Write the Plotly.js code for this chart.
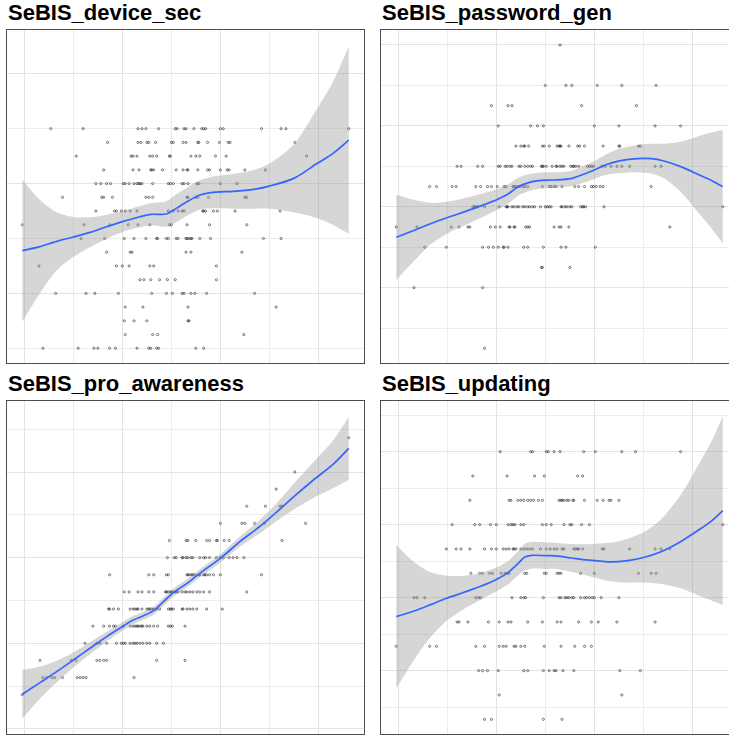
<!DOCTYPE html>
<html><head><meta charset="utf-8">
<script src="https://cdn.plot.ly/plotly-3.0.1.min.js"></script>
<style>html,body{margin:0;padding:0;background:#fff;overflow:hidden}</style>
</head><body><div id="chart" style="width:729px;height:736px"></div>
<script>
// ---------- DATA ----------
const panelTitles = ["SeBIS_device_sec", "SeBIS_password_gen", "SeBIS_pro_awareness", "SeBIS_updating"];

// device_sec: y levels and x values of points at each level
const deviceY = [5, 4.75, 4.5, 4.25, 4, 3.75, 3.5, 3.25, 3, 2.75, 2.5, 2.25, 2, 1.75, 1.5, 1.25, 1];
const deviceX = [
  [1.27,1.60,2.16,2.20,2.24,2.37,2.54,2.56,2.63,2.65,2.73,2.81,2.83,2.85,3.00,3.03,3.42,3.62,3.67,4.31],
  [1.85,2.16,2.19,2.25,2.27,2.34,2.50,2.52,2.62,2.65,2.77,2.78,2.87,2.99,3.08,3.10,3.76],
  [1.53,2.09,2.11,2.15,2.28,2.31,2.35,2.48,2.49,2.70,2.75,2.79,2.95,3.06,3.88],
  [1.81,2.11,2.17,2.29,2.30,2.32,2.41,2.55,2.62,2.66,2.67,2.77,2.87,2.89,3.00,3.07,3.09,3.25,3.46],
  [1.73,1.78,1.84,1.88,2.01,2.03,2.07,2.12,2.15,2.17,2.18,2.20,2.31,2.47,2.49,2.52,2.61,2.63,2.67,2.76,2.78,3.00,3.17],
  [1.39,1.79,1.81,1.90,2.24,2.27,2.31,2.66,2.67,2.75,2.77,2.88,3.25,3.27],
  [1.73,1.92,1.94,1.99,2.03,2.08,2.15,2.47,2.52,2.57,2.61,2.63,2.82,2.83,2.85,2.93,2.97,3.15,3.61],
  [0.98,1.61,1.87,2.06,2.16,2.28,2.48,2.50,2.66,2.89,3.27],
  [1.58,1.82,2.02,2.12,2.24,2.35,2.36,2.45,2.47,2.55,2.57,2.65,2.66,2.68,2.70,2.71,2.79,2.90,3.44,3.62],
  [1.84,2.08,2.10,2.65,2.70,3.22],
  [1.15,1.94,2.00,2.07,2.28,2.32,2.96],
  [2.18,2.22,2.29,2.38,2.46,2.54,2.96],
  [1.32,1.63,1.72,1.96,2.30,2.45,2.51,2.61,2.63,2.70,2.74,2.86,3.35],
  [2.03,2.21,2.67,3.57],
  [2.02,2.12,2.25,2.67,2.68],
  [2.03,2.31,2.36,3.24],
  [1.19,1.55,1.71,1.75,1.87,1.93,2.15,2.27,2.29,2.35,2.37,2.75,2.83]
];
const deviceFitX = [0.98,1.16,1.33,1.50,1.67,1.84,2.01,2.18,2.29,2.45,2.55,2.66,2.79,2.93,3.13,3.34,3.50,3.75,3.99,4.15,4.31];
const deviceFitY = [2.778,2.851,2.948,3.027,3.112,3.215,3.312,3.397,3.440,3.446,3.549,3.670,3.792,3.840,3.859,3.895,3.955,4.095,4.369,4.551,4.794];
const deviceFitSE = [1.293,0.850,0.528,0.364,0.273,0.219,0.188,0.194,0.200,0.231,0.255,0.255,0.267,0.291,0.316,0.352,0.413,0.619,1.002,1.305,1.706];

// password_gen
const passwordY = [5, 4.5, 4.25, 4, 3.75, 3.5, 3.25, 3, 2.75, 2.5, 2.25, 2, 1.25];
const passwordX = [
  [2.65],
  [2.50,2.71,2.77,3.03,3.28,3.63],
  [1.95,2.12,2.16,2.87,3.43],
  [2.02,2.35,2.42,2.48,3.00,3.25,3.62,3.88],
  [2.20,2.25,2.28,2.29,2.33,2.47,2.49,2.54,2.62,2.64,2.65,2.66,2.74,2.83,2.85,2.90,3.09,3.25,3.26,3.45,3.47],
  [1.60,1.64,1.81,1.86,2.02,2.04,2.09,2.11,2.14,2.16,2.23,2.25,2.29,2.32,2.35,2.37,2.46,2.47,2.48,2.51,2.57,2.61,2.62,2.65,2.67,2.69,2.76,2.78,2.79,2.81,2.84,2.93,2.95,2.97,2.99,3.08,3.11,3.17,3.23,3.28,3.36,3.62,3.68],
  [1.32,1.39,1.55,1.59,1.79,1.84,1.91,1.95,2.01,2.08,2.10,2.17,2.18,2.20,2.22,2.24,2.27,2.29,2.32,2.47,2.54,2.56,2.59,2.61,2.67,2.80,2.84,2.90,2.97,2.99,3.02,3.06,3.09,3.58],
  [1.76,1.78,1.79,1.81,1.88,2.03,2.10,2.11,2.12,2.16,2.18,2.21,2.23,2.27,2.29,2.32,2.34,2.37,2.39,2.45,2.50,2.52,2.54,2.56,2.66,2.67,2.70,2.72,2.75,2.77,2.86,2.88,2.89,2.91,3.10,4.31],
  [0.98,1.19,1.54,1.62,1.71,1.73,1.94,1.99,2.04,2.13,2.14,2.18,2.19,2.30,2.32,2.34,2.59,2.64,2.66,2.74,3.77],
  [1.27,1.49,1.86,1.92,1.97,2.02,2.07,2.08,2.12,2.28,2.32,2.48,2.66,2.71,3.01],
  [2.46,2.47,2.75],
  [1.16,1.86],
  [1.88]
];
const passwordFitX = [0.98,1.17,1.34,1.51,1.68,1.85,2.02,2.12,2.22,2.33,2.43,2.59,2.76,2.87,3.00,3.11,3.27,3.44,3.58,3.71,3.88,4.05,4.20,4.31];
const passwordFitY = [2.623,2.713,2.796,2.870,2.940,3.014,3.096,3.158,3.245,3.298,3.323,3.331,3.348,3.393,3.455,3.517,3.570,3.595,3.595,3.566,3.496,3.405,3.323,3.249];
const passwordFitSE = [0.527,0.371,0.251,0.194,0.169,0.148,0.128,0.119,0.111,0.103,0.099,0.095,0.095,0.103,0.111,0.124,0.152,0.169,0.185,0.214,0.309,0.461,0.597,0.700];

// pro_awareness
const awarenessY = [4.4, 4.0, 3.8, 3.6, 3.4, 3.2, 3.0, 2.8, 2.6, 2.4, 2.2, 2.0, 1.8, 1.6, 1.4];
const awarenessX = [
  [4.31],
  [3.76],
  [3.57],
  [3.27,3.46,3.61,3.63],
  [3.00,3.22,3.25,3.35,3.45,3.87],
  [2.48,2.65,2.67,2.75,2.86,2.89,2.96,2.97,3.04,3.09,3.63],
  [2.46,2.53,2.55,2.61,2.62,2.65,2.67,2.70,2.72,2.79,2.83,2.85,2.89,2.96,3.00,3.03,3.09,3.13,3.17,3.24],
  [1.87,2.27,2.32,2.45,2.47,2.66,2.67,2.69,2.71,2.72,2.74,2.78,2.79,2.83,2.84,2.86,2.89,2.93,3.00,3.42],
  [2.02,2.07,2.16,2.20,2.27,2.32,2.44,2.45,2.47,2.49,2.50,2.52,2.54,2.55,2.57,2.61,2.64,2.66,2.69,2.72,2.76,2.79,2.83,2.89,3.27],
  [1.86,1.87,1.91,1.96,2.08,2.11,2.13,2.15,2.16,2.20,2.25,2.27,2.28,2.30,2.32,2.35,2.38,2.47,2.49,2.50,2.52,2.61,2.62,2.66,2.69,2.72,2.76,2.86,3.02],
  [1.70,1.81,1.87,1.91,1.93,2.01,2.08,2.11,2.13,2.15,2.16,2.18,2.20,2.21,2.25,2.28,2.32,2.36,2.47,2.49,2.51,2.64],
  [1.62,1.74,1.77,1.84,1.94,1.99,2.01,2.03,2.08,2.11,2.13,2.15,2.18,2.21,2.25,2.28,2.35,2.42],
  [1.16,1.48,1.53,1.74,1.77,1.81,1.84,2.35,2.64],
  [1.19,1.23,1.28,1.31,1.39,1.54,1.57,1.60,1.63,2.12],
  [0.98]
];
const awarenessFitX = [0.98,1.16,1.33,1.50,1.67,1.84,2.01,2.11,2.21,2.32,2.42,2.52,2.66,2.79,3.00,3.20,3.41,3.58,3.75,3.95,4.15,4.31];
const awarenessFitY = [1.405,1.541,1.669,1.805,1.942,2.078,2.202,2.272,2.319,2.381,2.486,2.591,2.700,2.817,2.992,3.187,3.370,3.537,3.712,3.907,4.089,4.276];
const awarenessFitSE = [0.284,0.187,0.128,0.089,0.070,0.058,0.051,0.049,0.047,0.047,0.047,0.047,0.047,0.047,0.051,0.058,0.078,0.105,0.150,0.210,0.280,0.370];

// updating
const updatingY = [5, 4.667, 4.333, 4, 3.667, 3.333, 3, 2.667, 2.333, 2, 1.667, 1.333];
const updatingX = [
  [2.04,2.35,2.37,2.51,2.53,2.59,2.65,2.89,3.01,3.28,3.42,3.88],
  [1.76,2.11,2.39,2.49,2.83,2.88],
  [1.73,2.13,2.15,2.22,2.25,2.28,2.32,2.35,2.38,2.43,2.47,2.64,2.66,2.67,2.69,2.72,2.74,2.78,2.79,2.90,3.03,3.09,3.15,3.17,3.25],
  [1.55,1.78,1.83,1.94,2.00,2.12,2.15,2.17,2.19,2.25,2.28,2.47,2.51,2.56,2.69,2.75,2.77,2.87,2.95,4.31],
  [1.49,1.59,1.64,1.73,1.88,1.95,2.00,2.07,2.10,2.13,2.17,2.18,2.20,2.25,2.28,2.31,2.34,2.37,2.45,2.51,2.55,2.59,2.62,2.67,2.69,2.79,2.81,2.83,2.84,2.88,3.08,3.10,3.36,3.62,3.68,3.77],
  [1.74,1.83,1.86,1.93,1.96,2.05,2.09,2.11,2.13,2.29,2.31,2.49,2.51,2.62,2.64,2.66,2.86,3.00,3.45,3.58,3.63],
  [1.16,1.19,1.27,1.79,1.82,1.84,2.16,2.25,2.28,2.30,2.48,2.64,2.66,2.70,2.72,2.74,2.77,2.79,2.86,2.90,2.92,2.95,2.98,3.00,3.07,3.25],
  [1.60,1.62,1.71,1.92,2.03,2.12,2.15,2.32,2.47,2.62,2.66,2.84,2.97,3.04,3.23,3.62],
  [0.98,1.32,1.39,1.79,1.88,2.03,2.07,2.10,2.18,2.20,2.25,2.29,2.49,2.66,2.80,2.90,2.97],
  [1.82,1.86,1.91,2.02,2.28,2.32,2.48,2.54,2.59,2.61,2.68,2.79,3.26,3.47],
  [2.03,3.28],
  [1.88,1.95,2.48,2.67]
];
const updatingFitX = [0.98,1.16,1.33,1.50,1.67,1.84,2.01,2.12,2.18,2.24,2.29,2.36,2.50,2.61,2.77,2.93,3.17,3.34,3.51,3.68,3.88,4.09,4.20,4.31];
const updatingFitY = [2.740,2.817,2.904,2.995,3.073,3.155,3.256,3.342,3.416,3.493,3.557,3.580,3.575,3.571,3.543,3.516,3.489,3.507,3.553,3.630,3.767,3.950,4.055,4.192];
const updatingFitSE = [0.982,0.671,0.443,0.306,0.228,0.183,0.164,0.160,0.160,0.169,0.183,0.183,0.183,0.178,0.192,0.215,0.265,0.301,0.347,0.443,0.639,0.936,1.096,1.292];

// ---------- BUILD ----------
const W = 729, H = 736;
const panels = [
  {levels: deviceY, xs: deviceX, fx: deviceFitX, fy: deviceFitY, se: deviceFitSE,
   xa: 'x', ya: 'y', xdom: [7, 364], ydom: [30, 363], xr: [0.8235, 4.466], yr: [0.732, 6.798], ydt: 2, ymdt: 1, mirrorY: true},
  {levels: passwordY, xs: passwordX, fx: passwordFitX, fy: passwordFitY, se: passwordFitSE,
   xa: 'x2', ya: 'y2', xdom: [381, 729], ydom: [30, 363], xr: [0.8235, 4.374], yr: [1.069, 5.185], ydt: 1, ymdt: 0.5, mirrorY: false},
  {levels: awarenessY, xs: awarenessX, fx: awarenessFitX, fy: awarenessFitY, se: awarenessFitSE,
   xa: 'x3', ya: 'y3', xdom: [7, 364], ydom: [401, 734], xr: [0.8235, 4.466], yr: [0.941, 4.829], ydt: 1, ymdt: 0.5, mirrorY: true},
  {levels: updatingY, xs: updatingX, fx: updatingFitX, fy: updatingFitY, se: updatingFitSE,
   xa: 'x4', ya: 'y4', xdom: [381, 729], ydom: [401, 734], xr: [0.8235, 4.374], yr: [1.132, 5.694], ydt: 1, ymdt: 0.5, mirrorY: false}
];

const traces = [];
const layout = {
  width: W, height: H, margin: {l: 0, r: 0, t: 0, b: 0},
  paper_bgcolor: '#ffffff', plot_bgcolor: '#ffffff', showlegend: false,
  annotations: []
};
const lineCol = '#4d4d4d';

panels.forEach((p, i) => {
  const px = [], py = [];
  p.levels.forEach((lv, k) => { p.xs[k].forEach(v => { px.push(v); py.push(lv); }); });
  traces.push({type: 'scatter', mode: 'markers', x: px, y: py, xaxis: p.xa, yaxis: p.ya,
    marker: {symbol: 'circle-open', size: 2.2, color: 'rgba(0,0,0,0.7)', line: {width: 0.7}}, hoverinfo: 'skip'});
  const lo = p.fy.map((v, k) => v - p.se[k]);
  const hi = p.fy.map((v, k) => v + p.se[k]);
  traces.push({type: 'scatter', mode: 'lines', x: p.fx, y: lo, xaxis: p.xa, yaxis: p.ya,
    line: {width: 0, shape: 'spline', smoothing: 0.8}, hoverinfo: 'skip'});
  traces.push({type: 'scatter', mode: 'lines', x: p.fx, y: hi, xaxis: p.xa, yaxis: p.ya, fill: 'tonexty',
    fillcolor: 'rgba(153,153,153,0.4)', line: {width: 0, shape: 'spline', smoothing: 0.8}, hoverinfo: 'skip'});
  traces.push({type: 'scatter', mode: 'lines', x: p.fx, y: p.fy, xaxis: p.xa, yaxis: p.ya,
    line: {color: '#3366FF', width: 1.7, shape: 'spline', smoothing: 0.8}, hoverinfo: 'skip'});

  const xk = p.xa === 'x' ? 'xaxis' : 'xaxis' + p.xa.slice(1);
  const yk = p.ya === 'y' ? 'yaxis' : 'yaxis' + p.ya.slice(1);
  layout[xk] = {domain: [p.xdom[0] / W, p.xdom[1] / W], range: p.xr, anchor: p.ya,
    showticklabels: false, ticks: '', zeroline: false, tick0: 1, dtick: 1,
    showgrid: true, gridcolor: '#e3e3e3', gridwidth: 1,
    minor: {dtick: 0.5, tick0: 0.5, showgrid: true, gridcolor: '#ececec', gridwidth: 1},
    showline: true, linecolor: lineCol, linewidth: 1.2, mirror: true, fixedrange: true};
  layout[yk] = {domain: [1 - p.ydom[1] / H, 1 - p.ydom[0] / H], range: p.yr, anchor: p.xa,
    showticklabels: false, ticks: '', zeroline: false, tick0: 0, dtick: p.ydt,
    showgrid: true, gridcolor: '#e3e3e3', gridwidth: 1,
    minor: {dtick: p.ymdt, tick0: 0, showgrid: true, gridcolor: '#ececec', gridwidth: 1},
    showline: true, linecolor: lineCol, linewidth: 1.2, mirror: p.mirrorY, fixedrange: true};

  layout.annotations.push({
    text: '<b>' + panelTitles[i] + '</b>', xref: 'paper', yref: 'paper',
    x: (p.xdom[0] - 1) / W, y: 1 - (p.ydom[0] - 2.6) / H, xanchor: 'left', yanchor: 'bottom',
    showarrow: false, font: {family: 'Liberation Sans, Arial, sans-serif', size: 22, color: '#000'}
  });
});

Plotly.newPlot('chart', traces, layout, {staticPlot: true, displayModeBar: false});
</script></body></html>
